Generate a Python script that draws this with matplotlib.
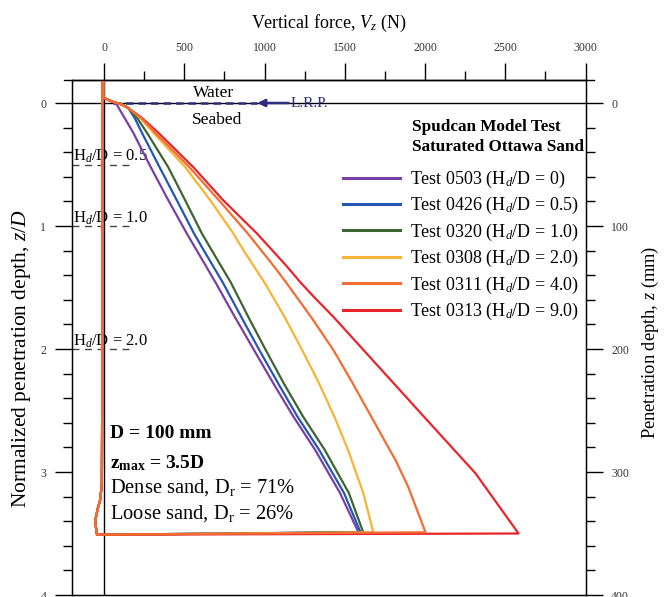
import matplotlib
matplotlib.use("Agg")
import matplotlib.pyplot as plt
from matplotlib.lines import Line2D
from matplotlib.ticker import MultipleLocator

plt.rcParams['font.family'] = ['Liberation Serif', 'DejaVu Serif']
plt.rcParams['mathtext.fontset'] = 'custom'
plt.rcParams['mathtext.rm'] = 'Liberation Serif'
plt.rcParams['mathtext.it'] = 'Liberation Serif:italic'
plt.rcParams['mathtext.bf'] = 'Liberation Serif:bold'

# ---------------- data (V in N, z/D) ----------------
tests = ['0503', '0426', '0320', '0308', '0311', '0313']
hd_ratio = ['0', '0.5', '1.0', '2.0', '4.0', '9.0']
colors = ['#7B3FA3', '#2456B4', '#3D6531', '#F9B233', '#F36C31', '#E8252B']

extract_V = [-44, -56, -40, -25, -14, -12, -12]
extract_z = [3.51, 3.40, 3.30, 3.23, 3.10, 2.50, -0.25]

V_0503 = [-5, -5, 0, 50, 80, 100, 181, 290, 400, 515, 578, 695, 815, 935, 1055, 1180, 1315, 1470, 1585]
z_0503 = [-0.25, -0.06, -0.04, -0.012, 0.015, 0.06, 0.24, 0.52, 0.79, 1.06, 1.20, 1.46, 1.74, 2.01, 2.28, 2.55, 2.82, 3.17, 3.49]

V_0426 = [-5, -5, 0, 50, 110, 150, 190, 235, 345, 453, 560, 622, 740, 855, 968, 1085, 1205, 1340, 1495, 1598]
z_0426 = [-0.25, -0.06, -0.04, -0.012, 0.012, 0.04, 0.12, 0.24, 0.52, 0.79, 1.06, 1.20, 1.46, 1.74, 2.01, 2.28, 2.55, 2.82, 3.17, 3.49]

V_0320 = [-5, -5, 0, 50, 110, 150, 205, 266, 399, 505, 609, 672, 790, 899, 1008, 1120, 1240, 1375, 1525, 1615]
z_0320 = [-0.25, -0.06, -0.04, -0.012, 0.012, 0.04, 0.12, 0.24, 0.52, 0.79, 1.06, 1.20, 1.46, 1.74, 2.01, 2.28, 2.55, 2.82, 3.17, 3.49]

V_0308 = [-5, -5, 0, 50, 110, 150, 225, 306, 505, 661, 805, 870, 1000, 1125, 1235, 1340, 1435, 1520, 1615, 1678]
z_0308 = [-0.25, -0.06, -0.04, -0.012, 0.012, 0.04, 0.12, 0.24, 0.52, 0.79, 1.06, 1.20, 1.46, 1.74, 2.01, 2.28, 2.55, 2.82, 3.17, 3.49]

V_0311 = [-5, -5, 0, 50, 110, 150, 230, 318, 530, 715, 895, 1060, 1135, 1290, 1430, 1550, 1665, 1780, 1815, 1895, 2003]
z_0311 = [-0.25, -0.06, -0.04, -0.012, 0.012, 0.04, 0.12, 0.24, 0.52, 0.79, 1.06, 1.33, 1.46, 1.74, 2.01, 2.28, 2.55, 2.82, 2.90, 3.12, 3.49]

V_0313 = [-5, -5, 0, 50, 110, 150, 235, 337, 555, 742, 952, 1050, 1140, 1225, 1310, 1430, 1750, 2028, 2314, 2583]
z_0313 = [-0.25, -0.06, -0.04, -0.012, 0.012, 0.04, 0.12, 0.24, 0.52, 0.79, 1.06, 1.20, 1.33, 1.46, 1.58, 1.74, 2.20, 2.60, 3.01, 3.50]

series_V = [V_0503, V_0426, V_0320, V_0308, V_0311, V_0313]
series_z = [z_0503, z_0426, z_0320, z_0308, z_0311, z_0313]

hd_levels = [0.5, 1.0, 2.0]
hd_labels = ['0.5', '1.0', '2.0']

# ---------------- figure ----------------
W, H = 668, 597
fig = plt.figure(figsize=(W / 100, H / 100), dpi=100)
ax_l, ax_r, ax_t, ax_b = 72, 585.5, 80, 595
ax = fig.add_axes([ax_l / W, 1 - ax_b / H, (ax_r - ax_l) / W, (ax_b - ax_t) / H])

ax.set_xlim(-200, 3000)
ax.set_ylim(4, -0.187)

navy = '#2E2C7C'
tick_col = '#333333'

# reference lines
ax.axvline(0, color='black', lw=1.0, zorder=1)
ax.axhline(0, color='black', lw=1.0, zorder=1)

# curves (orange drawn last so it lies on top)
order = [0, 1, 2, 3, 5, 4]
handles = [None] * 6
for k, i in enumerate(order):
    V = series_V[i] + extract_V
    z = series_z[i] + extract_z
    ln, = ax.plot(V, z, color=colors[i], lw=1.6, zorder=3 + k,
                  solid_joinstyle='round')
    handles[i] = ln

# L.R.P. dashed line and arrow
ax.plot([56, 955], [0, 0], color=navy, lw=1.8, ls=(0, (3, 2)), zorder=2)
ax.annotate('', xy=(955, 0), xytext=(1150, 0),
            arrowprops=dict(arrowstyle='-|>', color=navy, lw=1.8,
                            mutation_scale=11, shrinkA=0, shrinkB=0))
ax.text(1160, 0.005, 'L.R.P.', color=navy, fontsize=11, ha='left', va='center')
ax.text(680, -0.085, 'Water', fontsize=12.5, ha='center', va='center')
ax.text(705, 0.14, 'Seabed', fontsize=12.5, ha='center', va='center')

# Hd/D markers
for lev, lab in zip(hd_levels, hd_labels):
    ax.plot([-200, 185], [lev, lev], color='#444444', lw=1.0, ls=(0, (5, 4)),
            zorder=2)
    ax.text(-193, lev - 0.065, 'H$_d$/D = ' + lab, fontsize=12, ha='left',
            va='center', zorder=2)

# info block
ax.text(37, 2.69, 'D = 100 mm', fontsize=14, fontweight='bold', ha='left', va='center')
ax.text(37, 2.93, r'z$_{\mathbf{max}}$ = 3.5D', fontsize=14, fontweight='bold',
        ha='left', va='center')
ax.text(37, 3.13, r'Dense sand, D$_\mathrm{r}$ = 71%', fontsize=14.8, ha='left', va='center')
ax.text(37, 3.34, r'Loose sand, D$_\mathrm{r}$ = 26%', fontsize=14.8, ha='left', va='center')

# legend
labels = ['Test %s (H$_d$/D = %s)' % (t, h) for t, h in zip(tests, hd_ratio)]
leg = ax.legend(handles, labels, loc='upper left',
                bbox_to_anchor=((343 - ax_l) / (ax_r - ax_l), (ax_b - 169) / (ax_b - ax_t)),
                frameon=False, fontsize=13, handlelength=3.15, handletextpad=0.55,
                labelspacing=0.29, borderpad=0, borderaxespad=0)
for l in leg.get_lines():
    l.set_linewidth(2.2)
ax.text((412 - ax_l) / (ax_r - ax_l), (ax_b - 137) / (ax_b - ax_t),
        'Spudcan Model Test\nSaturated Ottawa Sand', transform=ax.transAxes,
        fontsize=12.3, fontweight='bold', ha='left', va='center', linespacing=1.4)

# axes styling
ax.xaxis.tick_top()
ax.xaxis.set_label_position('top')
ax.set_xticks(range(0, 3001, 500))
ax.xaxis.set_minor_locator(MultipleLocator(250))
ax.yaxis.set_major_locator(MultipleLocator(1))
ax.yaxis.set_minor_locator(MultipleLocator(0.2))
ax.tick_params(axis='both', which='major', direction='out', length=12.5, width=1.0,
               labelsize=8.5, labelcolor=tick_col, pad=6)
ax.tick_params(axis='both', which='minor', direction='out', length=6.5, width=1.0)
ax.tick_params(axis='x', which='both', bottom=False, top=True)
ax.set_xlabel('Vertical force, $V_z$ (N)', fontsize=13, labelpad=10)
ax.set_ylabel('Normalized penetration depth, $z/D$', fontsize=15.5)
ax.yaxis.label.set_va('center')
ax.yaxis.set_label_coords((22 - ax_l) / (ax_r - ax_l), (ax_b - 358) / (ax_b - ax_t))
for s in ax.spines.values():
    s.set_linewidth(1.0)

ax2 = ax.twinx()
ax2.set_ylim(400, -18.7)
ax2.yaxis.set_major_locator(MultipleLocator(100))
ax2.yaxis.set_minor_locator(MultipleLocator(20))
ax2.tick_params(axis='y', which='major', direction='out', length=12.5, width=1.0,
                labelsize=8.5, labelcolor=tick_col, pad=6)
ax2.tick_params(axis='y', which='minor', direction='out', length=6.5, width=1.0)
ax2.set_ylabel('Penetration depth, $z$ (mm)', fontsize=13.3)
ax2.yaxis.label.set_va('center')
ax2.yaxis.set_label_coords((650 - ax_l) / (ax_r - ax_l), (ax_b - 342) / (ax_b - ax_t))

# top line extension
ext = 8 / (ax_r - ax_l)
ax.add_line(Line2D([-ext, 1 + ext], [1, 1], transform=ax.transAxes, color='black',
                   lw=1.0, clip_on=False))

fig.savefig('out.png', dpi=100)
